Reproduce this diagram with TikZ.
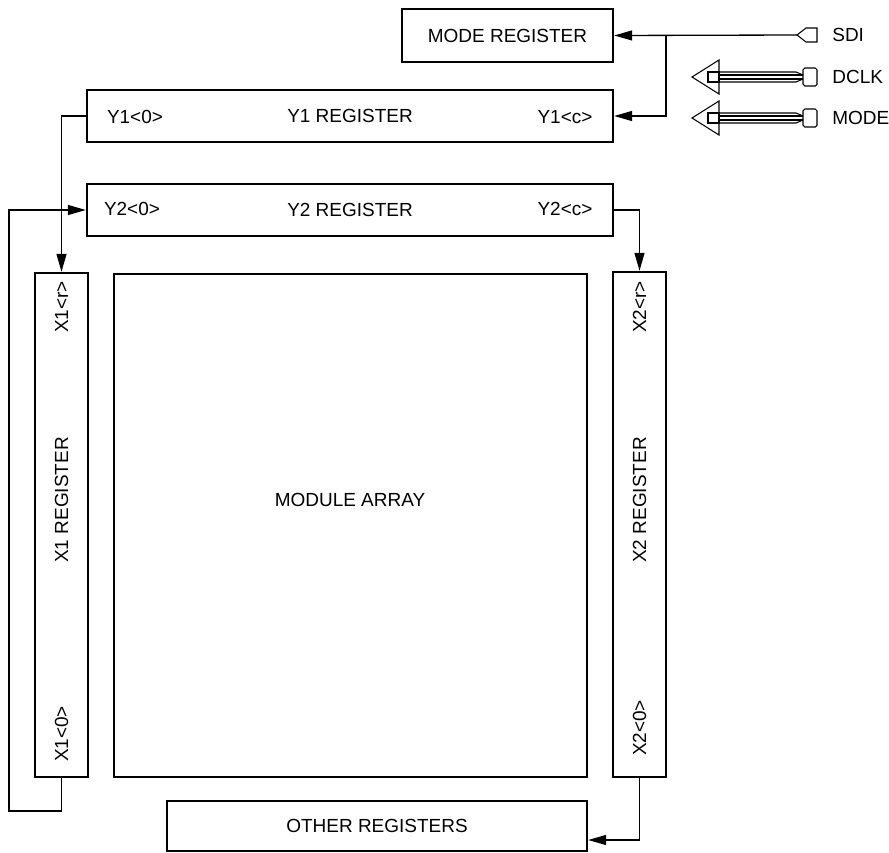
\documentclass[tikz,border=0pt]{standalone}
\usepackage{fontspec}
\setmainfont{Liberation Sans}
\usetikzlibrary{arrows.meta, positioning, calc}

\begin{document}
\begin{tikzpicture}[x=0.02cm, y=-0.02cm, every node/.style={font=\fontsize{10.8}{13}\selectfont, inner sep=0pt},
		regbox/.style={draw, line width=1.4pt},
		wire/.style={line width=0.75pt},
		sig/.style={wire, -{Triangle[length=0.36cm, width=0.2cm]}},
		bus/.style={line width=0.6pt}]
		\useasboundingbox (0,0) rectangle (889,852);
		% Mode register and row registers
		\node[regbox, minimum width=4.22cm, minimum height=1.06cm] (modereg) at (507.5,35.5) {MODE REGISTER};
		\node[regbox, minimum width=10.52cm, minimum height=1.04cm] (y1reg) at (350,116) {Y1 REGISTER};
		\node (y1lo) at (135,117) {Y1<0>};
		\node (y1hi) at (565,117) {Y1<c>};
		\node[regbox, minimum width=10.52cm, minimum height=1.04cm] (y2reg) at (350,210) {Y2 REGISTER};
		\node (y2lo) at (132,209) {Y2<0>};
		\node (y2hi) at (565,209) {Y2<c>};
		% Column registers and module array
		\node[regbox, minimum width=1.06cm, minimum height=10.08cm] (x1reg) at (61.5,525) {};
		\node[rotate=90] (x1hi) at (61.5,307) {X1<r>};
		\node[rotate=90] (x1name) at (61.5,500) {X1 REGISTER};
		\node[rotate=90] (x1lo) at (61.5,734) {X1<0>};
		\node[regbox, minimum width=9.46cm, minimum height=10.06cm] (array) at (350.5,525.5) {};
		\node (arrayname) at (350,500) {MODULE ARRAY};
		\node[regbox, minimum width=1.06cm, minimum height=10.1cm] (x2reg) at (639.5,524.5) {};
		\node[rotate=90] (x2hi) at (639.5,307) {X2<r>};
		\node[rotate=90] (x2name) at (639.5,500) {X2 REGISTER};
		\node[rotate=90] (x2lo) at (639.5,728) {X2<0>};
		\node[regbox, minimum width=8.4cm, minimum height=1.0cm] (other) at (377,826) {OTHER REGISTERS};
		% Input pins
		\node[anchor=west] (sdi) at (832,35) {SDI};
		\coordinate (sdipin) at (797,35);
		\draw[bus] (sdipin) -- (806,28) -- (817,28) -- (817,42) -- (806,42) -- cycle;
		\foreach \c/\lbl in {77/DCLK, 118/MODE} {
			\draw[bus] (692,\c) -- (719,\c-17) -- (719,\c+17) -- cycle;
			\draw[bus] (708,\c-5) rectangle (719,\c+5);
			\draw[bus] (719,\c-5) -- (796,\c-5) -- (803,\c-2);
			\draw[bus] (719,\c+5) -- (796,\c+5) -- (803,\c+2);
			\draw[bus] (719,\c-2) -- (803,\c-2);
			\draw[bus] (719,\c+2) -- (803,\c+2);
			\draw[bus, rounded corners=1pt] (803,\c-9) rectangle (817,\c+9);
			\node[anchor=west] (pin-\lbl) at (832,\c) {\lbl};
		}
		% Scan path
		\coordinate (split) at (666,35);
		\coordinate (loopbl) at (9,811);
		\draw[sig] (sdipin) -- (modereg.east);
		\draw[sig] (split) |- (y1reg.east);
		\draw[sig] (y1reg.west) -| (x1reg.north);
		\draw[sig] (x1reg.south) |- (loopbl) |- (y2reg.west);
		\draw[sig] (y2reg.east) -| (x2reg.north);
		\draw[sig] (x2reg.south) |- ([yshift=-0.28cm]other.east);
	\end{tikzpicture}
\end{document}
